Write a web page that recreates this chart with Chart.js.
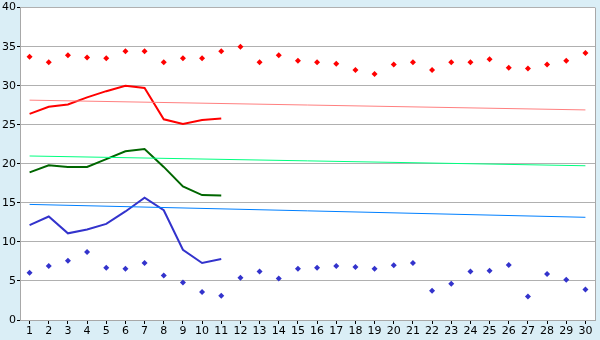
<!DOCTYPE html>
<html>
<head>
<meta charset="utf-8">
<script src="https://cdn.jsdelivr.net/npm/chart.js@4"></script>
<style>
  html, body { margin: 0; padding: 0; background: #daeef6; }
  #wrap { width: 600px; height: 340px; }
</style>
</head>
<body>
<div id="wrap"><canvas id="myChart"></canvas></div>
<script>
const days = [];
for (let d = 1; d <= 30; d++) days.push(String(d));

const maxPoints = [33.7, 33.0, 33.9, 33.6, 33.5, 34.4, 34.4, 33.0, 33.5, 33.5, 34.4, 35.0, 33.0, 33.9, 33.2,
                   33.0, 32.8, 32.0, 31.5, 32.7, 33.0, 32.0, 33.0, 33.0, 33.4, 32.3, 32.2, 32.7, 33.2, 34.2];
const minPoints = [6.05, 6.9, 7.6, 8.7, 6.7, 6.55, 7.3, 5.7, 4.8, 3.6, 3.1, 5.4, 6.2, 5.3, 6.55,
                   6.7, 6.9, 6.8, 6.55, 7.0, 7.3, 3.75, 4.65, 6.2, 6.3, 7.05, 3.0, 5.9, 5.15, 3.9];
const maxLine = [26.4, 27.3, 27.6, 28.5, 29.3, 30.0, 29.7, 25.7, 25.1, 25.6, 25.8];
const avgLine = [18.9, 19.8, 19.6, 19.6, 20.6, 21.6, 21.9, 19.6, 17.1, 16.0, 15.95];
const minLine = [12.15, 13.25, 11.1, 11.6, 12.3, 13.9, 15.65, 14.05, 9.0, 7.3, 7.8];
// trend lines: value at day 1 and day 30
const maxTrend = [28.15, 26.9];
const avgTrend = [21.0, 19.75];
const minTrend = [14.8, 13.15];

function ends(pair) {
    const arr = new Array(days.length).fill(null);
    arr[0] = pair[0];
    arr[days.length - 1] = pair[1];
    return arr;
}

const plotBg = {
    id: 'plotBg',
    beforeDraw(chart) {
        const a = chart.chartArea, c = chart.ctx;
        c.save();
        c.fillStyle = '#ffffff';
        c.fillRect(a.left, a.top, a.right - a.left, a.bottom - a.top);
        c.restore();
    },
    afterDatasetsDraw(chart) {
        const a = chart.chartArea, c = chart.ctx;
        c.save();
        c.strokeStyle = '#a8a8a8';
        c.lineWidth = 1;
        c.beginPath();
        c.moveTo(Math.round(a.right) + 0.5, a.top);
        c.lineTo(Math.round(a.right) + 0.5, a.bottom);
        c.stroke();
        c.restore();
    }
};

Chart.defaults.font.family = 'DejaVu Sans';
Chart.defaults.font.size = 11;
Chart.defaults.color = '#000';

const ctx = document.getElementById('myChart');
new Chart(ctx, {
    type: 'line',
    data: {
        labels: days,
        datasets: [
            { data: ends(maxTrend), borderColor: '#ff8080', borderWidth: 1, pointRadius: 0, spanGaps: true },
            { data: ends(avgTrend), borderColor: '#00ff80', borderWidth: 1, pointRadius: 0, spanGaps: true },
            { data: ends(minTrend), borderColor: '#0080ff', borderWidth: 1, pointRadius: 0, spanGaps: true },
            { data: maxLine, borderColor: '#ff0000', borderWidth: 2, pointRadius: 0 },
            { data: avgLine, borderColor: '#006600', borderWidth: 2, pointRadius: 0 },
            { data: minLine, borderColor: '#3333cc', borderWidth: 2, pointRadius: 0 },
            { data: maxPoints, showLine: false, pointStyle: 'rectRot', pointRadius: 3,
              backgroundColor: '#ff0000', borderColor: '#ff0000', borderWidth: 0 },
            { data: minPoints, showLine: false, pointStyle: 'rectRot', pointRadius: 3,
              backgroundColor: '#3333cc', borderColor: '#3333cc', borderWidth: 0 }
        ]
    },
    options: {
        responsive: true,
        maintainAspectRatio: false,
        animation: false,
        layout: { padding: { top: 5, right: 5, left: 0, bottom: 0 } },
        plugins: { legend: { display: false }, tooltip: { enabled: false } },
        scales: {
            x: {
                offset: true,
                grid: { offset: false, drawOnChartArea: false, tickLength: 4, tickColor: '#000' },
                border: { color: '#a8a8a8' },
                ticks: { autoSkip: false, maxRotation: 0, padding: 1 },
                afterFit(scale) { scale.height = 20; }
            },
            y: {
                min: 0, max: 40,
                grid: { color: '#b0b0b0', tickLength: 3, tickColor: '#000' },
                border: { color: '#a8a8a8' },
                ticks: { stepSize: 5, padding: 1 },
                afterFit(scale) { scale.width = 20; }
            }
        }
    },
    plugins: [plotBg]
});
</script>
</body>
</html>
